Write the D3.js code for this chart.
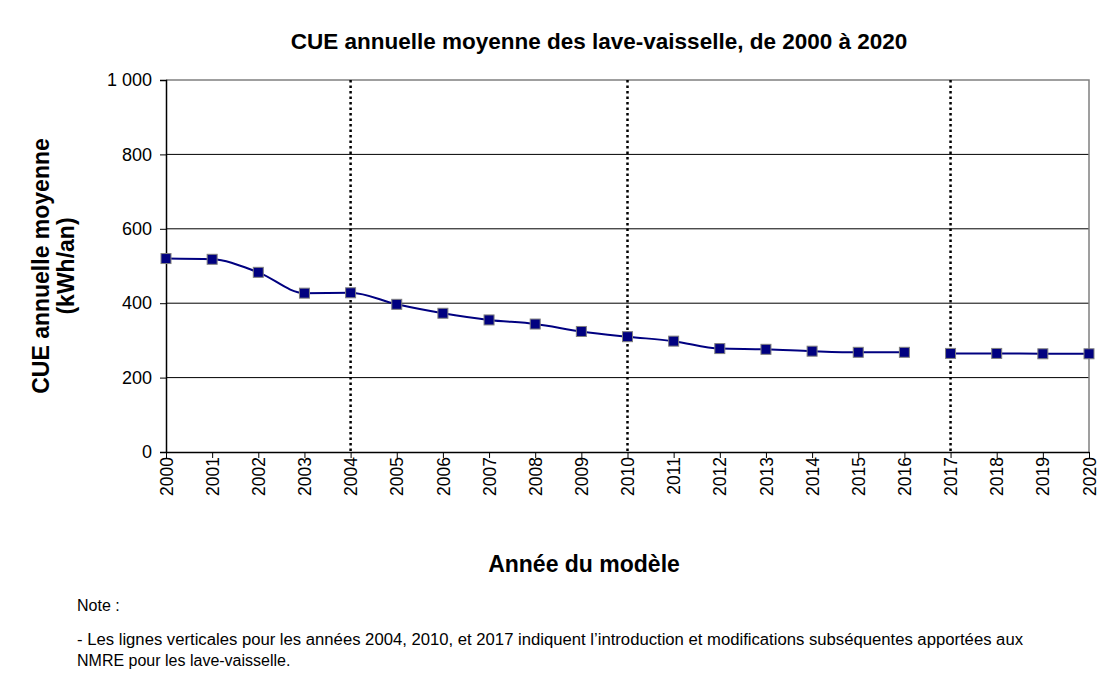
<!DOCTYPE html>
<html>
<head>
<meta charset="utf-8">
<script src="https://cdn.jsdelivr.net/npm/d3@7"></script>
<style>
  body { margin: 0; background: #fff; }
  svg text { font-family: "Liberation Sans", Arial, sans-serif; }
</style>
</head>
<body>
<svg id="chart" width="1110" height="679"></svg>
<script>
// years and average annual energy use (kWh/an)
var years = [2000, 2001, 2002, 2003, 2004, 2005, 2006, 2007, 2008, 2009, 2010,
             2011, 2012, 2013, 2014, 2015, 2016, 2017, 2018, 2019, 2020];
var cue = [520, 518, 483, 427, 428, 397, 373, 355, 344, 324, 310,
           298, 278, 276, 271, 268, 268, 265, 265, 264, 264];
var standardYears = [2004, 2010, 2017];
var yTicks = [0, 200, 400, 600, 800, 1000];
var breakAfter = 2016; // the line is not drawn between 2016 and 2017

var svg = d3.select('#chart');
var plotL = 166, plotR = 1089, plotT = 80, plotB = 452;

var x = d3.scaleLinear().domain([2000, 2020]).range([plotL, plotR]);
var y = d3.scaleLinear().domain([0, 1000]).range([plotB, plotT]);
var fmt = function(d) { return d3.format(',')(d).replace(',', ' '); };

// gridlines
svg.append('g').selectAll('line')
    .data(yTicks.filter(function(d) { return d > 0 && d < 1000; }))
  .enter().append('line')
    .attr('x1', plotL).attr('x2', plotR)
    .attr('y1', function(d) { return y(d); })
    .attr('y2', function(d) { return y(d); })
    .attr('stroke', '#000').attr('stroke-width', 1);

// top and right border
svg.append('path')
    .attr('d', 'M' + plotL + ',' + y(1000) + 'H' + plotR + 'V' + plotB)
    .attr('fill', 'none').attr('stroke', '#808080').attr('stroke-width', 1.5);

// vertical dotted lines
svg.append('g').selectAll('line')
    .data(standardYears)
  .enter().append('line')
    .attr('x1', function(d) { return x(d); })
    .attr('x2', function(d) { return x(d); })
    .attr('y1', plotT).attr('y2', plotB)
    .attr('stroke', '#000').attr('stroke-width', 2.5)
    .attr('stroke-dasharray', '2.5,3');

// y axis
var yAxis = svg.append('g')
    .attr('transform', 'translate(' + plotL + ',0)')
    .call(d3.axisLeft(y).tickValues(yTicks).tickFormat(fmt).tickSize(6).tickPadding(8));
yAxis.select('.domain').attr('stroke', '#000').attr('stroke-width', 1.5);
yAxis.selectAll('.tick line').attr('stroke', '#000');
yAxis.selectAll('text').attr('font-size', 18).attr('fill', '#000');

// x axis
var xAxis = svg.append('g')
    .attr('transform', 'translate(0,' + plotB + ')')
    .call(d3.axisBottom(x).tickValues(years).tickFormat(d3.format('d')).tickSize(6).tickSizeOuter(0));
xAxis.select('.domain').attr('stroke', '#000').attr('stroke-width', 1.5);
xAxis.selectAll('.tick line').attr('stroke', '#000');
xAxis.selectAll('text')
    .attr('font-size', 17.5).attr('fill', '#000')
    .attr('transform', 'rotate(-90)')
    .attr('x', -5).attr('y', 0).attr('dy', '0.35em')
    .attr('text-anchor', 'end');

// data line, in two pieces
var pts = years.map(function(d, i) { return {year: d, v: cue[i]}; });
var line = d3.line()
    .x(function(d) { return x(d.year); })
    .y(function(d) { return y(d.v); })
    .curve(d3.curveMonotoneX);
[pts.filter(function(d) { return d.year <= breakAfter; }),
 pts.filter(function(d) { return d.year > breakAfter; })].forEach(function(seg) {
  svg.append('path')
      .datum(seg)
      .attr('d', line)
      .attr('fill', 'none')
      .attr('stroke', '#000080')
      .attr('stroke-width', 2);
});

// markers
svg.append('g').selectAll('rect')
    .data(pts)
  .enter().append('rect')
    .attr('x', function(d) { return x(d.year) - 5; })
    .attr('y', function(d) { return y(d.v) - 5; })
    .attr('width', 10).attr('height', 10)
    .attr('fill', '#000080')
    .attr('stroke', '#808080').attr('stroke-width', 1);

// title and axis titles
svg.append('text')
    .attr('x', 599).attr('y', 49)
    .attr('text-anchor', 'middle')
    .attr('font-size', 22.5).attr('font-weight', 'bold')
    .text('CUE annuelle moyenne des lave-vaisselle, de 2000 à 2020');

svg.append('text')
    .attr('x', 584).attr('y', 572)
    .attr('text-anchor', 'middle')
    .attr('font-size', 23).attr('font-weight', 'bold')
    .text('Année du modèle');

var yt = svg.append('text')
    .attr('transform', 'translate(49,' + (plotT + plotB) / 2 + ') rotate(-90)')
    .attr('text-anchor', 'middle')
    .attr('font-size', 23).attr('font-weight', 'bold');
yt.append('tspan').attr('x', 0).attr('dy', 0).text('CUE annuelle moyenne');
yt.append('tspan').attr('x', 0).attr('dy', 25).text('(kWh/an)');

// note
svg.append('text')
    .attr('x', 77).attr('y', 611)
    .attr('font-size', 16)
    .text('Note  :');
svg.append('text')
    .attr('x', 77).attr('y', 645)
    .attr('font-size', 16)
    .attr('textLength', 946).attr('lengthAdjust', 'spacingAndGlyphs')
    .text('- Les lignes verticales pour les années 2004, 2010, et 2017 indiquent l’introduction et modifications subséquentes  apportées aux');
svg.append('text')
    .attr('x', 77).attr('y', 666)
    .attr('font-size', 16)
    .text('NMRE  pour les lave-vaisselle.');
</script>
</body>
</html>
